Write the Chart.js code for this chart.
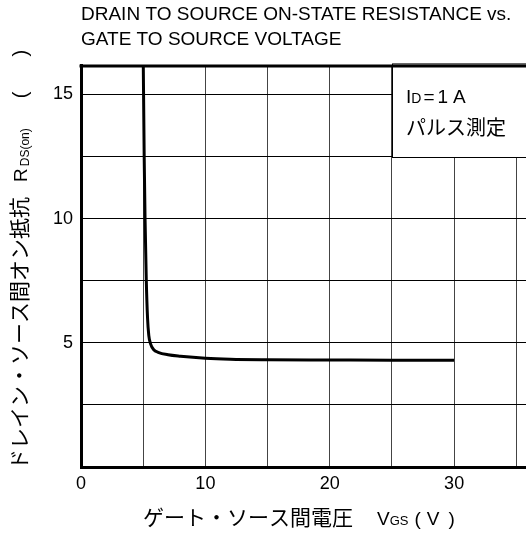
<!DOCTYPE html>
<html>
<head>
<meta charset="utf-8">
<script src="https://cdn.jsdelivr.net/npm/chart.js@4.4.1/dist/chart.umd.min.js"></script>
<style>
  html, body { margin: 0; padding: 0; background: #fff; overflow: hidden; }
  #wrap { width: 530px; height: 533px; }
</style>
</head>
<body>
<div id="wrap"><canvas id="chart"></canvas></div>
<script>
// values
const vgs = [5.0, 5.08, 5.15, 5.25, 5.35, 5.45, 5.6, 5.85, 6.2, 7, 8, 10, 12, 15, 20, 25, 30];
const rds = [16.6, 12.5, 10, 7.5, 6, 5.3, 4.95, 4.72, 4.62, 4.52, 4.46, 4.38, 4.34, 4.32, 4.31, 4.3, 4.3];

const xTickValues = [0, 5, 10, 15, 20, 25, 30, 35];
const xTickLabels = ["0", "", "10", "", "20", "", "30", ""];
const yTickValues = [0, 2.5, 5, 7.5, 10, 12.5, 15];
const yTickLabels = ["", "", "5", "", "10", "", "15"];

const titleLines = ["DRAIN TO SOURCE ON-STATE RESISTANCE vs.", "GATE TO SOURCE VOLTAGE"];

const latinFont = '"Liberation Sans", Arial, sans-serif';
const jpFont = '"Noto Sans CJK JP", sans-serif';

const ctx = document.getElementById("chart");

// draws a row of text pieces (so subscripts can be smaller)
function drawRuns(c, runs, x, y) {
  runs.forEach((r) => {
    x += r.gap || 0;
    c.font = r.size + "px " + (r.jp ? jpFont : latinFont);
    c.fillText(r.text, x, y + (r.sub || 0));
    x += c.measureText(r.text).width;
  });
}

const notesPlugin = {
  id: "notes",
  beforeDatasetsDraw(chart) {
    const c = chart.ctx;
    const area = chart.chartArea;
    const x0 = Math.round(chart.scales.x.getPixelForValue(25)) + 0.5;
    const y0 = Math.round(chart.scales.y.getPixelForValue(12.5)) + 0.5;
    c.save();
    c.fillStyle = "#fff";
    c.fillRect(x0, area.top, chart.width - x0 + 2, y0 - area.top);
    c.strokeStyle = "#000";
    c.lineWidth = 1;
    c.strokeRect(x0, area.top - 2, chart.width - x0 + 4, y0 - area.top + 2);
    c.restore();
  },
  afterDatasetsDraw(chart) {
    const c = chart.ctx;
    const area = chart.chartArea;
    c.save();
    c.strokeStyle = "#000";
    c.lineWidth = 3;
    c.beginPath();
    c.moveTo(area.left - 1.5, area.top);
    c.lineTo(chart.width, area.top);
    c.stroke();
    c.restore();
  },
  afterDraw(chart) {
    const c = chart.ctx;
    c.save();
    c.fillStyle = "#000";
    c.textBaseline = "alphabetic";
    c.textAlign = "left";

    // legend box text
    drawRuns(c, [
      { text: "I", size: 19 },
      { text: "D", size: 14 },
      { text: "=", size: 19, gap: 2 },
      { text: "1", size: 19, gap: 3 },
      { text: "A", size: 19, gap: 5 },
    ], 406, 103);
    drawRuns(c, [{ text: "パルス測定", size: 20, jp: true }], 406, 135);

    // x axis title
    drawRuns(c, [
      { text: "ゲート・ソース間電圧", size: 21, jp: true },
      { text: "V", size: 19, gap: 24 },
      { text: "GS", size: 13, gap: 0 },
      { text: "(", size: 19, gap: 6 },
      { text: "V", size: 19, gap: 6 },
      { text: ")", size: 19, gap: 9 },
    ], 143, 525);

    // y axis title (rotated)
    c.translate(27, 470);
    c.rotate(-Math.PI / 2);
    drawRuns(c, [
      { text: "ドレイン・ソース間オン抵抗", size: 21, jp: true },
      { text: "R", size: 19, gap: 15 },
      { text: "DS(on)", size: 12, gap: 2, sub: 1.5 },
      { text: "(", size: 20, gap: 30 },
      { text: ")", size: 20, gap: 35 },
    ], 0, 0);
    c.restore();
  },
};

const chart = new Chart(ctx, {
  type: "line",
  data: {
    datasets: [
      {
        data: vgs.map((v, i) => ({ x: v, y: rds[i] })),
        borderColor: "#000",
        borderWidth: 3,
        pointRadius: 0,
        cubicInterpolationMode: "monotone",
        clip: 0,
      },
    ],
  },
  options: {
    responsive: true,
    maintainAspectRatio: false,
    animation: false,
    events: [],
    layout: { padding: 0 },
    scales: {
      x: {
        type: "linear",
        min: 0,
        max: 36.1,
        afterBuildTicks: (scale) => {
          scale.ticks = xTickValues.map((v) => ({ value: v }));
        },
        afterFit: (scale) => {
          scale.height = 66;
        },
        grid: { color: "#444", lineWidth: 1, drawTicks: false },
        border: { color: "#000", width: 3 },
        ticks: {
          color: "#000",
          padding: 6,
          maxRotation: 0,
          autoSkip: false,
          font: { family: latinFont, size: 18 },
          callback: (value, index) => xTickLabels[index],
        },
      },
      y: {
        type: "linear",
        min: 0,
        max: 16.15,
        afterBuildTicks: (scale) => {
          scale.ticks = yTickValues.map((v) => ({ value: v }));
        },
        afterFit: (scale) => {
          scale.width = 81;
        },
        grid: { color: "#000", lineWidth: 1, drawTicks: false },
        border: { color: "#000", width: 3 },
        ticks: {
          color: "#000",
          padding: 8,
          autoSkip: false,
          font: { family: latinFont, size: 18 },
          callback: (value, index) => yTickLabels[index],
        },
      },
    },
    plugins: {
      legend: { display: false },
      tooltip: { enabled: false },
      title: {
        display: true,
        text: titleLines,
        align: "start",
        fullSize: false,
        color: "#000",
        font: { family: latinFont, size: 19, weight: "normal", lineHeight: 1.34 },
        padding: { top: 2, bottom: 13 },
      },
    },
  },
  plugins: [notesPlugin],
});
</script>
</body>
</html>
